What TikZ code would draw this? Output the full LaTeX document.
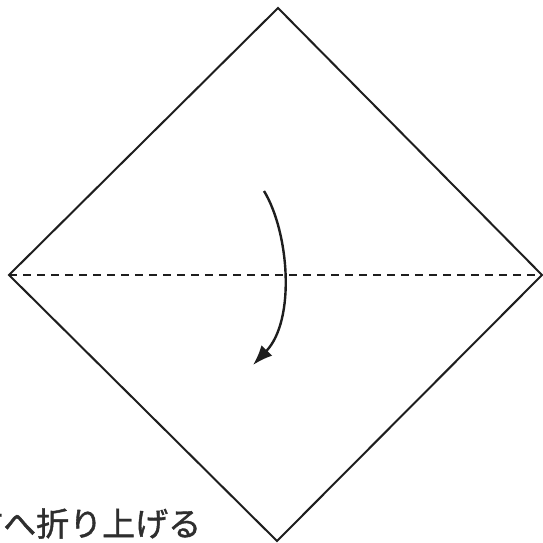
\documentclass[tikz,border=0pt]{standalone}
\usepackage{fontspec}
\newfontfamily\jpfont[FakeBold=1.2]{Noto Sans CJK JP}
\usetikzlibrary{arrows.meta}
\definecolor{ink}{HTML}{1E1E1E}
\definecolor{txt}{HTML}{2E2E2E}
\begin{document}
\begin{tikzpicture}[x=1pt,y=-1pt,
  edge/.style={draw=ink,line width=2pt,line join=miter},
  fold/.style={draw=ink,line width=2pt,dash pattern=on 8pt off 6pt},
  turn/.style={draw=ink,line width=2.4pt,-{Latex[length=20pt,width=15pt]}},
  caption/.style={font=\jpfont\fontsize{33}{33}\selectfont,text=txt,inner sep=0pt,anchor=base west}]
\useasboundingbox (0,0) rectangle (543,543);
\fill[white] (0,0) rectangle (543,543);
\coordinate (T) at (278,8);
\coordinate (R) at (542,275);
\coordinate (B) at (277,541);
\coordinate (L) at (9,275);
\draw[edge] (T) -- (R) -- (B) -- (L) -- cycle;
\draw[fold] (L) -- (R);
\coordinate (s) at (264,191);
\coordinate (e) at (253,365);
\draw[turn] (s) .. controls (289,232) and (296,320) .. (e);
\node[caption] (cap) at (-30,536) {方へ折り上げる};
\end{tikzpicture}
\end{document}
